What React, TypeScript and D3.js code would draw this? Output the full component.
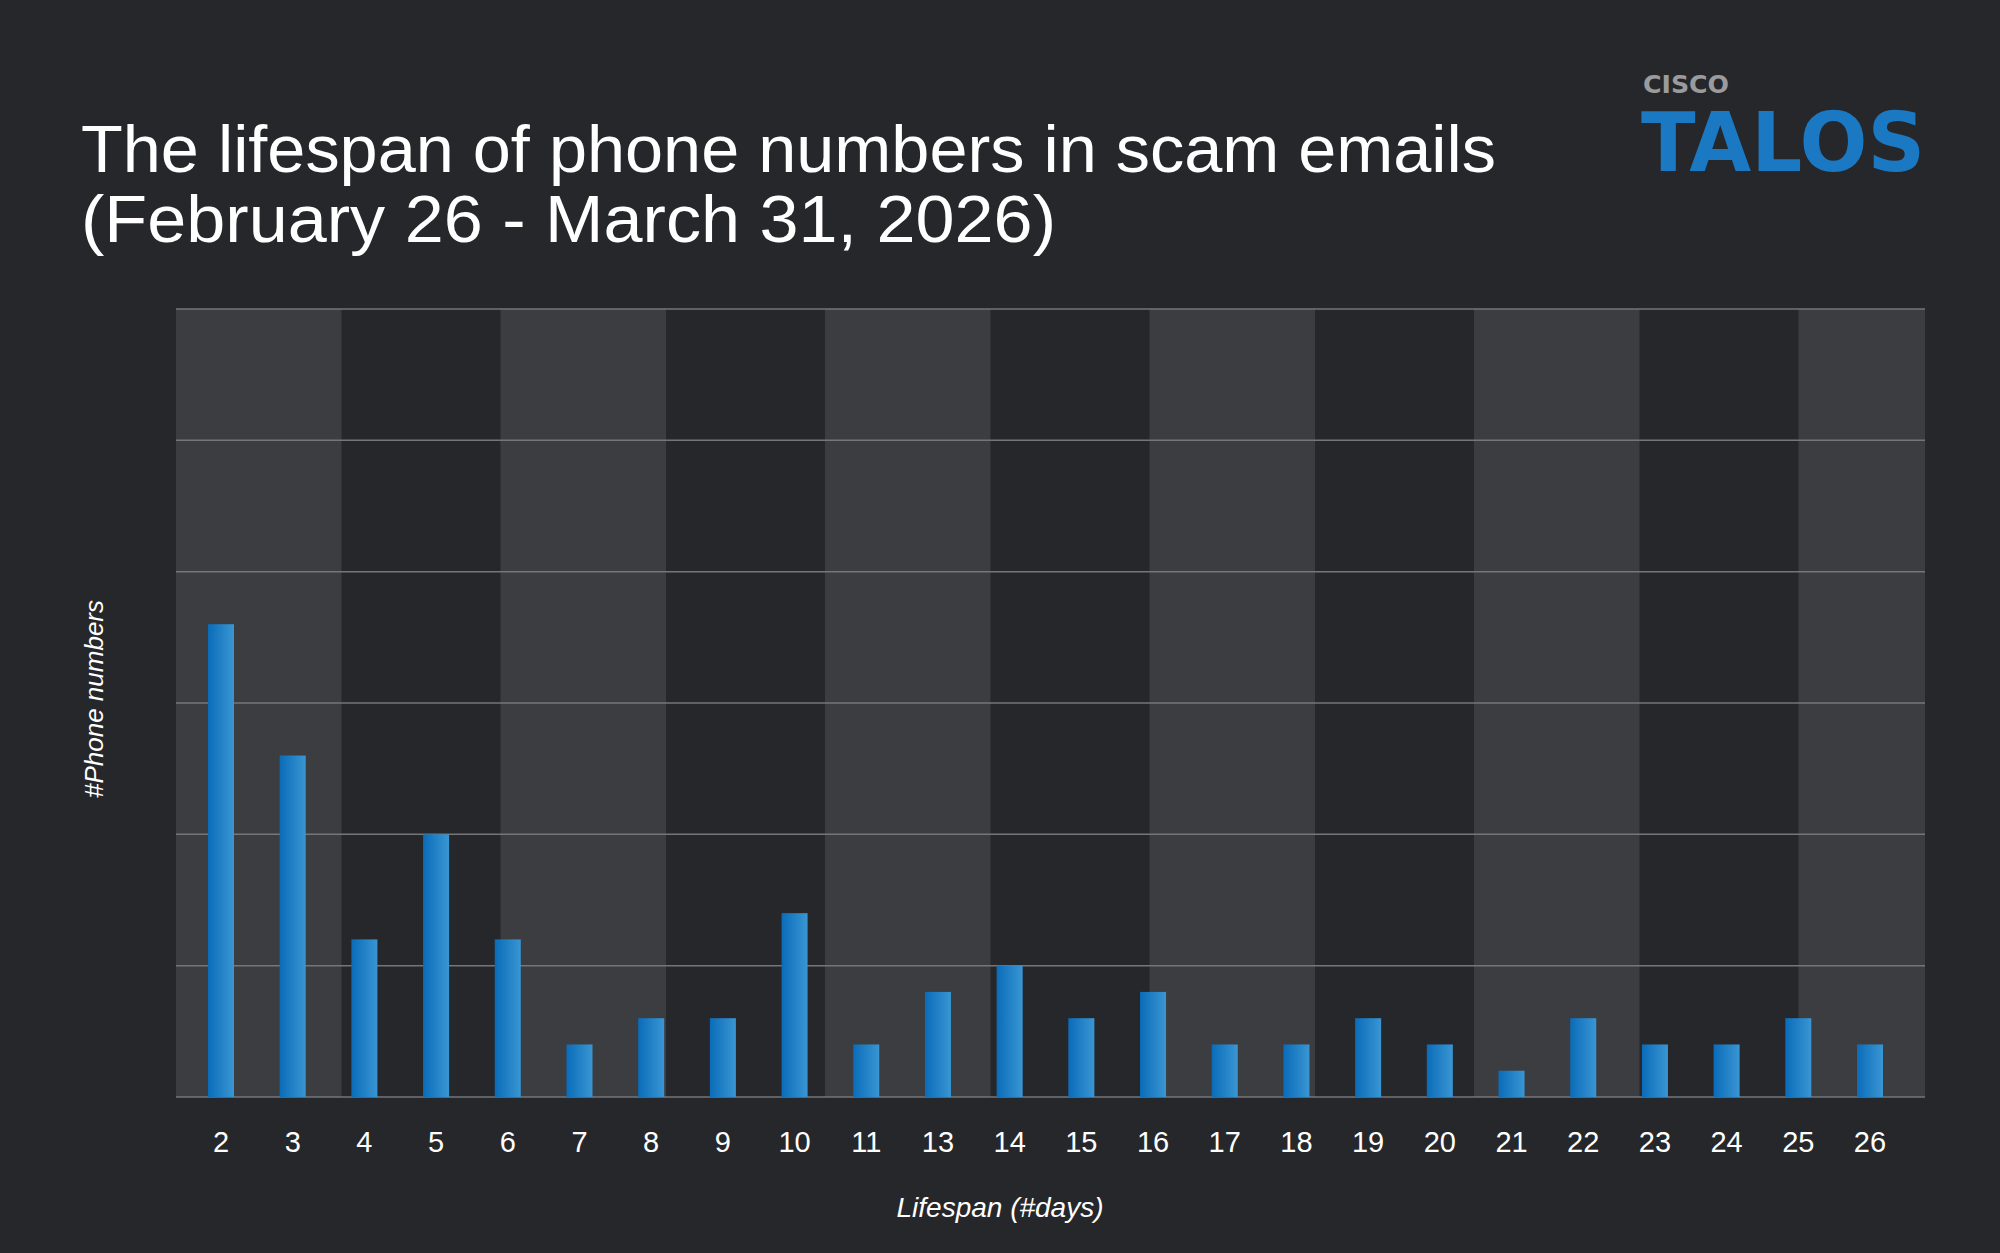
import React from "react";
import * as d3 from "d3";

const categories = ["2","3","4","5","6","7","8","9","10","11","13","14","15","16","17","18","19","20","21","22","23","24","25","26"];
const values = [18,13,6,10,6,2,3,3,7,2,4,5,3,4,2,2,3,2,1,3,2,2,3,2];
const yTicks = [0,5,10,15,20,25,30];
const titleLines = ["The lifespan of phone numbers in scam emails", "(February 26 - March 31, 2026)"];
const xTitle = "Lifespan (#days)";
const yTitle = "#Phone numbers";

const W = 2000, H = 1253;
const plot = { left: 176, right: 1925, top: 309, bottom: 1097 };
const BG = "#26272b";
const BAND = "#3c3d41";
const GRID = "#75767a";
const FONT = "'Liberation Sans', Helvetica, Arial, sans-serif";

export default function App() {
  const x = d3.scalePoint<string>().domain(categories).range([221, 1870]);
  const y = d3.scaleLinear().domain([0, 30]).range([plot.bottom, plot.top]);
  const barW = 26;

  // alternating vertical bands
  const pairW = 324.5, lightW = 165.5;
  const bands: { x0: number; x1: number }[] = [];
  for (let s = plot.left; s < plot.right; s += pairW) {
    bands.push({ x0: s, x1: Math.min(s + lightW, plot.right) });
  }

  return (
    <svg width={W} height={H} style={{ display: "block", position: "absolute", left: 0, top: 0 }}>
      <defs>
        <linearGradient id="barGrad" x1="0" x2="1" y1="0" y2="0">
          <stop offset="0%" stopColor="#0a6cb9" />
          <stop offset="100%" stopColor="#3a96d3" />
        </linearGradient>
      </defs>
      <rect x={0} y={0} width={W} height={H} fill={BG} />

      {/* title */}
      <text x={81} y={172} fill="#ffffff" fontFamily={FONT} fontSize={67} textLength={1415} lengthAdjust="spacingAndGlyphs">{titleLines[0]}</text>
      <text x={81} y={242} fill="#ffffff" fontFamily={FONT} fontSize={67} textLength={975} lengthAdjust="spacingAndGlyphs">{titleLines[1]}</text>

      {/* logo */}
      <text x={1643} y={93} fill="#9b9b9d" fontFamily="'DejaVu Sans', sans-serif" fontWeight="bold" fontSize={25} textLength={86} lengthAdjust="spacingAndGlyphs">CISCO</text>
      <text x={1641} y={171} fill="#1b79c3" fontFamily="'DejaVu Sans', sans-serif" fontWeight="bold" fontSize={82} textLength={284} lengthAdjust="spacingAndGlyphs">TALOS</text>

      {/* bands */}
      {bands.map((b, i) => (
        <rect key={i} x={b.x0} y={plot.top} width={b.x1 - b.x0} height={plot.bottom - plot.top} fill={BAND} />
      ))}

      {/* gridlines */}
      {yTicks.map((t) => (
        <line key={t} x1={plot.left} x2={plot.right} y1={y(t)} y2={y(t)} stroke={GRID} strokeWidth={1.5} />
      ))}

      {/* bars */}
      {categories.map((c, i) => (
        <rect key={c} x={(x(c) as number) - barW / 2} y={y(values[i])} width={barW} height={y(0) - y(values[i])} fill="url(#barGrad)" />
      ))}

      {/* x tick labels */}
      {categories.map((c) => (
        <text key={c} x={x(c) as number} y={1152} fill="#ffffff" fontFamily={FONT} fontSize={29} textAnchor="middle">{c}</text>
      ))}

      {/* axis titles */}
      <text x={1000} y={1217} fill="#ffffff" fontFamily={FONT} fontSize={28} fontStyle="italic" textAnchor="middle">{xTitle}</text>
      <text transform={`translate(103,699) rotate(-90)`} fill="#ffffff" fontFamily={FONT} fontSize={26} fontStyle="italic" textAnchor="middle">{yTitle}</text>
    </svg>
  );
}
